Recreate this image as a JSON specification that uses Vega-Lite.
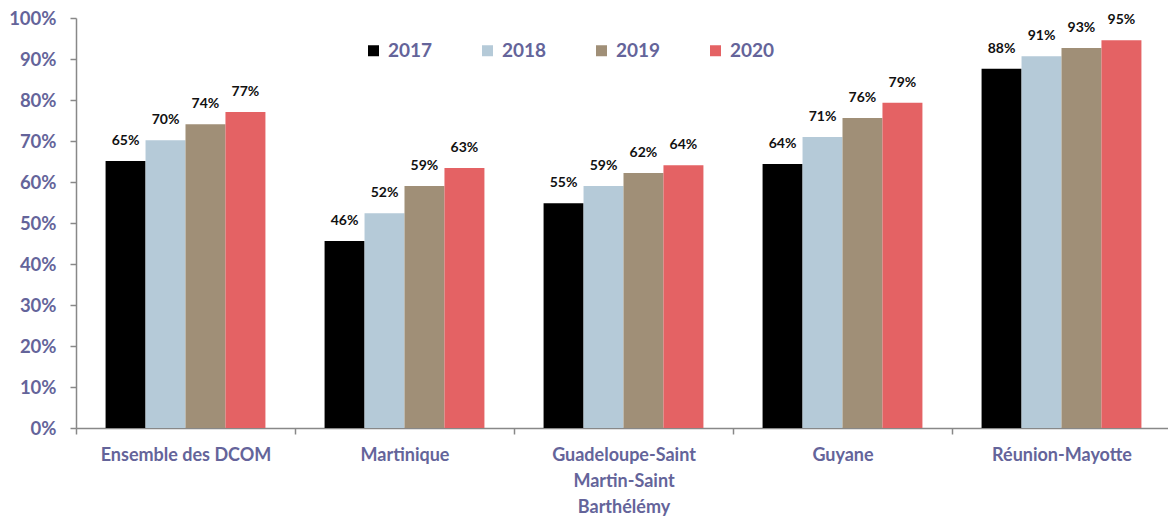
{
  "$schema": "https://vega.github.io/schema/vega-lite/v6.json",
  "width": 1095,
  "height": 410,
  "autosize": {"type": "none"},
  "padding": {"left": 76, "top": 18, "right": 0, "bottom": 95},
  "background": "white",
  "config": {
    "view": {"stroke": null},
    "font": "Lato"
  },
  "data": {
    "values": [
      {"zone": "Ensemble des DCOM", "year": "2017", "v": 0.651},
      {"zone": "Ensemble des DCOM", "year": "2018", "v": 0.702},
      {"zone": "Ensemble des DCOM", "year": "2019", "v": 0.741},
      {"zone": "Ensemble des DCOM", "year": "2020", "v": 0.771},
      {"zone": "Martinique", "year": "2017", "v": 0.456},
      {"zone": "Martinique", "year": "2018", "v": 0.524},
      {"zone": "Martinique", "year": "2019", "v": 0.590},
      {"zone": "Martinique", "year": "2020", "v": 0.634},
      {"zone": "Guadeloupe-Saint Martin-Saint Barthélémy", "year": "2017", "v": 0.548},
      {"zone": "Guadeloupe-Saint Martin-Saint Barthélémy", "year": "2018", "v": 0.590},
      {"zone": "Guadeloupe-Saint Martin-Saint Barthélémy", "year": "2019", "v": 0.622},
      {"zone": "Guadeloupe-Saint Martin-Saint Barthélémy", "year": "2020", "v": 0.641},
      {"zone": "Guyane", "year": "2017", "v": 0.644},
      {"zone": "Guyane", "year": "2018", "v": 0.710},
      {"zone": "Guyane", "year": "2019", "v": 0.756},
      {"zone": "Guyane", "year": "2020", "v": 0.793},
      {"zone": "Réunion-Mayotte", "year": "2017", "v": 0.876},
      {"zone": "Réunion-Mayotte", "year": "2018", "v": 0.907},
      {"zone": "Réunion-Mayotte", "year": "2019", "v": 0.927},
      {"zone": "Réunion-Mayotte", "year": "2020", "v": 0.946}
    ]
  },
  "encoding": {
    "x": {
      "field": "zone", "type": "nominal", "sort": null,
      "scale": {"paddingInner": 0, "paddingOuter": 0},
      "axis": {
        "title": null,
        "labelAngle": 0,
        "labelFont": "Lato",
        "labelFontSize": 18,
        "labelFontWeight": "bold",
        "labelColor": "#64649a",
        "labelLineHeight": 26,
        "labelPadding": 12,
        "labelExpr": "datum.value == 'Guadeloupe-Saint Martin-Saint Barthélémy' ? ['Guadeloupe-Saint', 'Martin-Saint', 'Barthélémy'] : datum.value",
        "tickBand": "extent",
        "tickSize": 6,
        "tickColor": "#888888",
        "domainColor": "#888888",
        "domainWidth": 1.5,
        "tickWidth": 1.5
      }
    },
    "xOffset": {"field": "year", "type": "nominal", "scale": {"paddingInner": 0, "paddingOuter": 0.74}},
    "y": {
      "field": "v", "type": "quantitative",
      "scale": {"domain": [0, 1]},
      "axis": {
        "title": null,
        "format": ".0%",
        "values": [0, 0.1, 0.2, 0.3, 0.4, 0.5, 0.6, 0.7, 0.8, 0.9, 1],
        "labelOverlap": false,
        "grid": false,
        "labelFont": "Lato",
        "labelFontSize": 18.5,
        "labelFontWeight": "bold",
        "labelColor": "#64649a",
        "labelPadding": 14,
        "tickSize": 6,
        "tickColor": "#888888",
        "domainColor": "#888888",
        "domainWidth": 1.5,
        "tickWidth": 1.5
      }
    }
  },
  "layer": [
    {
      "mark": {"type": "bar"},
      "encoding": {
        "color": {
          "field": "year", "type": "nominal",
          "scale": {"domain": ["2017", "2018", "2019", "2020"], "range": ["#000000", "#b5cad8", "#a08f77", "#e46264"]},
          "legend": {
            "title": null,
            "orient": "none",
            "direction": "horizontal",
            "legendX": 288,
            "legendY": 23,
            "symbolType": "square",
            "symbolSize": 121,
            "symbolStrokeWidth": 0,
            "labelFont": "Lato",
            "labelFontSize": 19,
            "labelFontWeight": "bold",
            "labelColor": "#64649a",
            "labelOffset": 5,
            "columnPadding": 45
          }
        }
      }
    },
    {
      "mark": {"type": "text", "baseline": "bottom", "dy": -13, "fontSize": 14, "fontWeight": "bold", "font": "Lato", "color": "#111111"},
      "encoding": {
        "text": {"field": "v", "type": "quantitative", "format": ".0%"}
      }
    }
  ]
}
